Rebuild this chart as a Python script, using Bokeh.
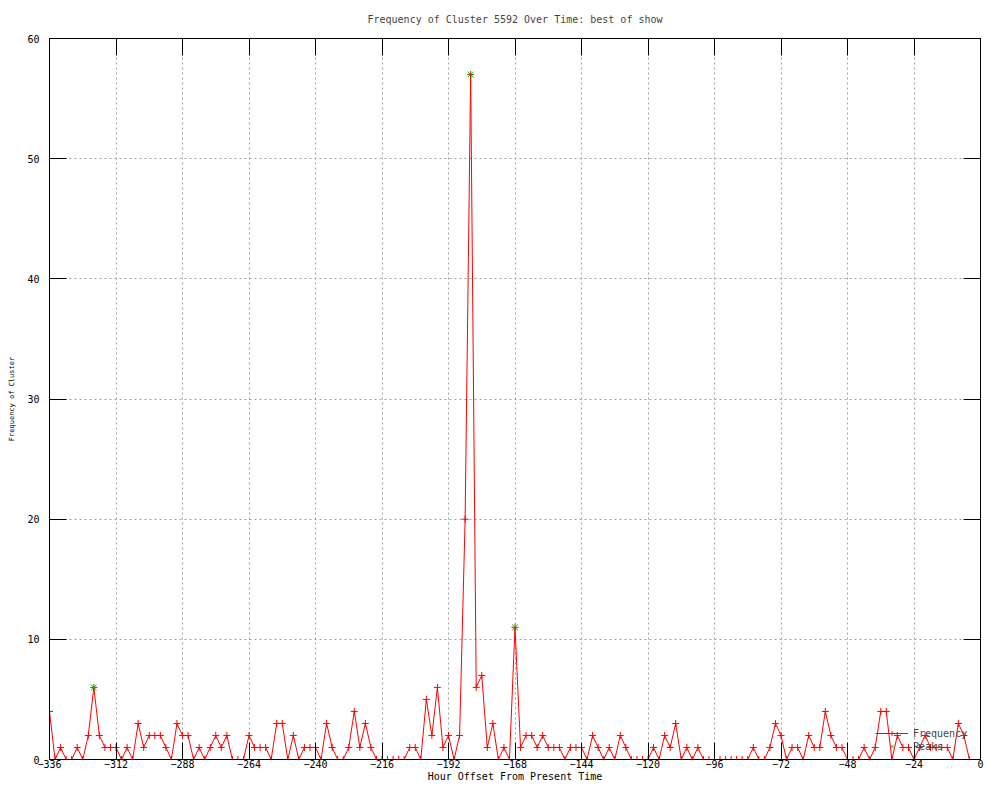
from bokeh.plotting import figure
from bokeh.models import (Range1d, FixedTicker, LinearAxis, Legend,
                          LegendItem, ColumnDataSource, CustomLabelingPolicy)
from bokeh.embed import file_html
from bokeh.resources import INLINE

# ---- data ----
hours = list(range(-336, -2, 2))
freq = [4, 0, 1, 0, 0, 1, 0, 2, 6, 2, 1, 1, 1, 0, 1, 0, 3, 1, 2, 2,
        2, 1, 0, 3, 2, 2, 0, 1, 0, 1, 2, 1, 2, 0, 0, 0, 2, 1, 1, 1,
        0, 3, 3, 0, 2, 0, 1, 1, 1, 0, 3, 1, 0, 0, 1, 4, 1, 3, 1, 0,
        0, 0, 0, 0, 0, 1, 1, 0, 5, 2, 6, 1, 2, 0, 2, 20, 57, 6, 7, 1,
        3, 0, 1, 0, 11, 1, 2, 2, 1, 2, 1, 1, 1, 0, 1, 1, 1, 0, 2, 1,
        0, 1, 0, 2, 1, 0, 0, 0, 0, 1, 0, 2, 1, 3, 0, 1, 0, 1, 0, 0,
        0, 0, 0, 0, 0, 0, 0, 1, 0, 0, 1, 3, 2, 0, 1, 1, 0, 2, 1, 1,
        4, 2, 1, 1, 0, 0, 0, 1, 0, 1, 4, 4, 0, 2, 1, 1, 0, 1, 2, 1,
        1, 1, 1, 0, 3, 2, 0]
peak_hours = [-320, -184, -168]
peak_values = [6, 57, 11]
x_ticks = list(range(-336, 1, 24))
y_ticks = list(range(0, 61, 10))
title_text = "Frequency of Cluster 5592 Over Time: best of show"
x_title = "Hour Offset From Present Time"
y_title = "Frequency of Cluster"

FONT = "DejaVu Sans Mono"
RED = "#ff0000"
GREEN = "#00c000"

p = figure(width=984, height=784, output_backend="svg", toolbar_location=None,
           x_range=Range1d(-336, 0), y_range=Range1d(0, 60),
           min_border_left=49, min_border_right=3, min_border_top=38,
           min_border_bottom=24, title=title_text)
p.background_fill_color = "white"
p.border_fill_color = "white"
p.outline_line_color = "black"
p.outline_line_width = 1
p.outline_line_alpha = 1

p.title.text_font = FONT
p.title.text_font_size = "10px"
p.title.text_font_style = "normal"
p.title.align = "center"
p.title.standoff = 20

hide_labels = CustomLabelingPolicy(code="""
    for (const i of indices)
        indices.unset(i)
    return indices
""")

def style_axis(ax, ticks, labels=True):
    ax.ticker = FixedTicker(ticks=ticks)
    ax.axis_line_color = "black"
    ax.major_tick_line_color = "black"
    ax.major_tick_in = 17
    ax.major_tick_out = 0
    ax.minor_tick_line_color = None
    ax.major_label_text_font = FONT
    ax.major_label_text_color = "black"
    if labels:
        ax.major_label_text_font_size = "10px"
    else:
        ax.major_label_text_font_size = "1px"
        ax.major_label_standoff = 0
        ax.major_label_policy = hide_labels
    ax.axis_label_text_font = FONT
    ax.axis_label_text_font_size = "10px"
    ax.axis_label_text_font_style = "normal"
    ax.axis_label_text_color = "black"

xa = p.xaxis[0]
style_axis(xa, x_ticks)
xa.major_label_standoff = 0
xa.axis_label = x_title
xa.axis_label_standoff = 0

ya = p.yaxis[0]
style_axis(ya, y_ticks)
ya.major_label_standoff = 10
ya.axis_label = y_title
ya.axis_label_text_font_size = "7px"
ya.axis_label_standoff = 8

top = LinearAxis()
style_axis(top, x_ticks, labels=False)
p.add_layout(top, "above")
right = LinearAxis()
style_axis(right, y_ticks, labels=False)
p.add_layout(right, "right")

for g, t in ((p.xgrid, x_ticks), (p.ygrid, y_ticks)):
    g.ticker = FixedTicker(ticks=t)
    g.grid_line_color = "#a0a0a0"
    g.grid_line_dash = "2 3"
    g.grid_line_width = 1

src = ColumnDataSource(dict(hour=hours, freq=freq))
ln = p.line("hour", "freq", source=src, line_color=RED, line_width=1)
pts = p.scatter("hour", "freq", source=src, marker="cross", size=7,
                line_color=RED, line_width=1)
psrc = ColumnDataSource(dict(hour=peak_hours, val=peak_values))
pk = p.scatter("hour", "val", source=psrc, marker="x", size=8,
               line_color=GREEN, line_width=1)

legend = Legend(items=[LegendItem(label="Frequency", renderers=[ln, pts]),
                       LegendItem(label="Peaks", renderers=[pk])],
                location=(826, 7), glyph_width=33, glyph_height=12,
                spacing=1, padding=0, margin=0, label_standoff=5,
                label_text_font=FONT, label_text_font_size="10px",
                label_height=12, background_fill_alpha=0,
                border_line_alpha=0)
p.add_layout(legend, "center")

open("out.html", "w").write(file_html(p, INLINE))
